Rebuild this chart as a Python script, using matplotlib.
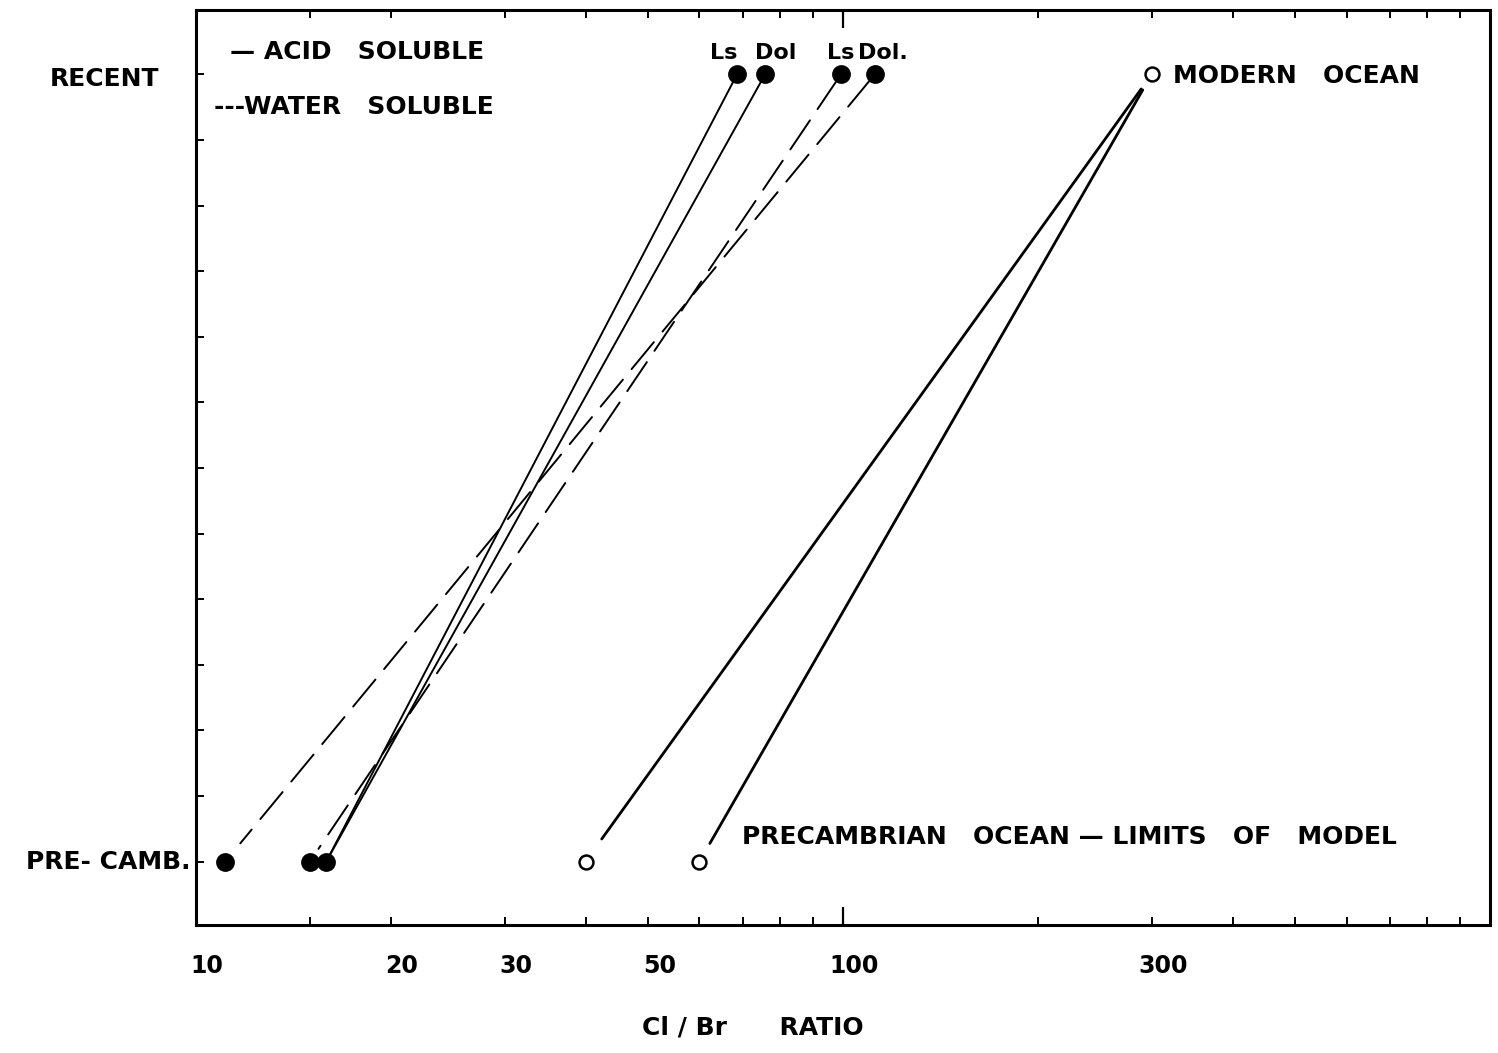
import matplotlib
matplotlib.use("Agg")
import matplotlib.pyplot as plt
from matplotlib.ticker import FixedLocator, NullFormatter

plt.rcParams['font.family'] = ['DejaVu Sans']

# Cl/Br ratios, recent carbonates (Ls, Dol) and their Precambrian counterparts
acid_recent = [68.6, 75.8]
acid_precamb = [15.9, 15.9]
water_recent = [99.3, 112.0]
water_precamb = [15.0, 11.1]
rock_labels = ["Ls", "Dol", "Ls", "Dol."]

# sea water: modern value and the two Precambrian model limits
ocean_modern = 300.0
ocean_precamb = [40.0, 60.0]

Y_RECENT = 12
Y_PRECAMB = 0
y_ticks = list(range(0, 13))

x_tick_labels = [10, 20, 30, 50, 100, 300]
x_major = [100]
x_minor = [15, 20, 30, 40, 50, 60, 70, 80, 90, 200, 300, 400, 500, 600, 700, 800, 900]

FS = 18
INK = "black"

fig = plt.figure(figsize=(14.98, 10.53), dpi=100)
ax = fig.add_axes([0.1308, 0.1220, 0.8639, 0.8685])
ax.set_xscale("log")
ax.set_xlim(10, 1000)
ax.set_ylim(-0.96, 12.98)

for s in ax.spines.values():
    s.set_linewidth(2.2)

ax.xaxis.set_major_locator(FixedLocator(x_major))
ax.xaxis.set_minor_locator(FixedLocator(x_minor))
ax.xaxis.set_major_formatter(NullFormatter())
ax.xaxis.set_minor_formatter(NullFormatter())
ax.tick_params(axis="x", which="major", direction="in", length=13, width=1.6,
               top=True, bottom=True)
ax.tick_params(axis="x", which="minor", direction="in", length=6, width=1.4,
               top=True, bottom=True)
ax.set_yticks(y_ticks)
ax.set_yticklabels([])
ax.tick_params(axis="y", direction="in", length=6, width=1.4)

# x tick labels and axis title
xt = ax.get_xaxis_transform()
for v in x_tick_labels:
    ax.text(v * 1.04, -0.045, str(v), transform=xt, ha="center", va="center",
            fontsize=17, fontweight="bold")
ax.text(0.430, -0.113, "Cl / Br      RATIO", transform=ax.transAxes,
        ha="center", va="center", fontsize=FS, fontweight="bold")

# y labels
yt = ax.get_yaxis_transform()
ax.text(-0.028, Y_RECENT - 0.07, "RECENT", transform=yt, ha="right", va="center",
        fontsize=FS, fontweight="bold")
ax.text(-0.004, Y_PRECAMB, "PRE- CAMB.", transform=yt, ha="right", va="center",
        fontsize=FS, fontweight="bold")


def connect(x0, y0, x1, y1, ls, lw, sa, sb):
    ax.annotate("", xy=(x1, y1), xytext=(x0, y0),
                arrowprops=dict(arrowstyle="-", color=INK, lw=lw, linestyle=ls,
                                shrinkA=sa, shrinkB=sb))


dash = (0, (18, 7))

# acid soluble: solid lines
for xr, xp in zip(acid_recent, acid_precamb):
    connect(xr, Y_RECENT, xp, Y_PRECAMB, "-", 1.4, 5, 6)
# water soluble: dashed lines
for xr, xp, sb in zip(water_recent, water_precamb, [11, 17]):
    connect(xr, Y_RECENT, xp, Y_PRECAMB, dash, 1.4, 5, sb)
# ocean model limits
for xp, sb in zip(ocean_precamb, [20, 15]):
    connect(ocean_modern, Y_RECENT, xp, Y_PRECAMB, "-", 2.0, 13, sb)

# markers
filled_top = acid_recent + water_recent
ax.plot(filled_top, [Y_RECENT] * len(filled_top), "o", color=INK, ms=12.5, zorder=5)
filled_bot = sorted(set(acid_precamb + water_precamb))
ax.plot(filled_bot, [Y_PRECAMB] * len(filled_bot), "o", color=INK, ms=12.5, zorder=5)
ax.plot([ocean_modern], [Y_RECENT], "o", mfc="white", mec=INK, mew=1.8, ms=10, zorder=5)
ax.plot(ocean_precamb, [Y_PRECAMB] * len(ocean_precamb), "o", mfc="white", mec=INK,
        mew=1.8, ms=10, zorder=5)

# rock type labels above the recent points
label_shift = [0.955, 1.04, 1.0, 1.03]
for xv, lab, k in zip(filled_top, rock_labels, label_shift):
    ax.text(xv * k, Y_RECENT + 0.32, lab, ha="center", va="center",
            fontsize=16, fontweight="bold")

ax.text(ocean_modern * 1.08, Y_RECENT - 0.02, "MODERN   OCEAN", ha="left", va="center",
        fontsize=FS, fontweight="bold")
ax.text(ocean_precamb[1] * 1.163, Y_PRECAMB + 0.37,
        "PRECAMBRIAN   OCEAN — LIMITS   OF   MODEL", ha="left", va="center",
        fontsize=FS, fontweight="bold")

# legend text
ax.text(0.026, 0.954, "— ACID   SOLUBLE", transform=ax.transAxes, ha="left",
        va="center", fontsize=FS, fontweight="bold")
ax.text(0.014, 0.894, "---WATER   SOLUBLE", transform=ax.transAxes, ha="left",
        va="center", fontsize=FS, fontweight="bold")

fig.savefig("out.png", dpi=100)
